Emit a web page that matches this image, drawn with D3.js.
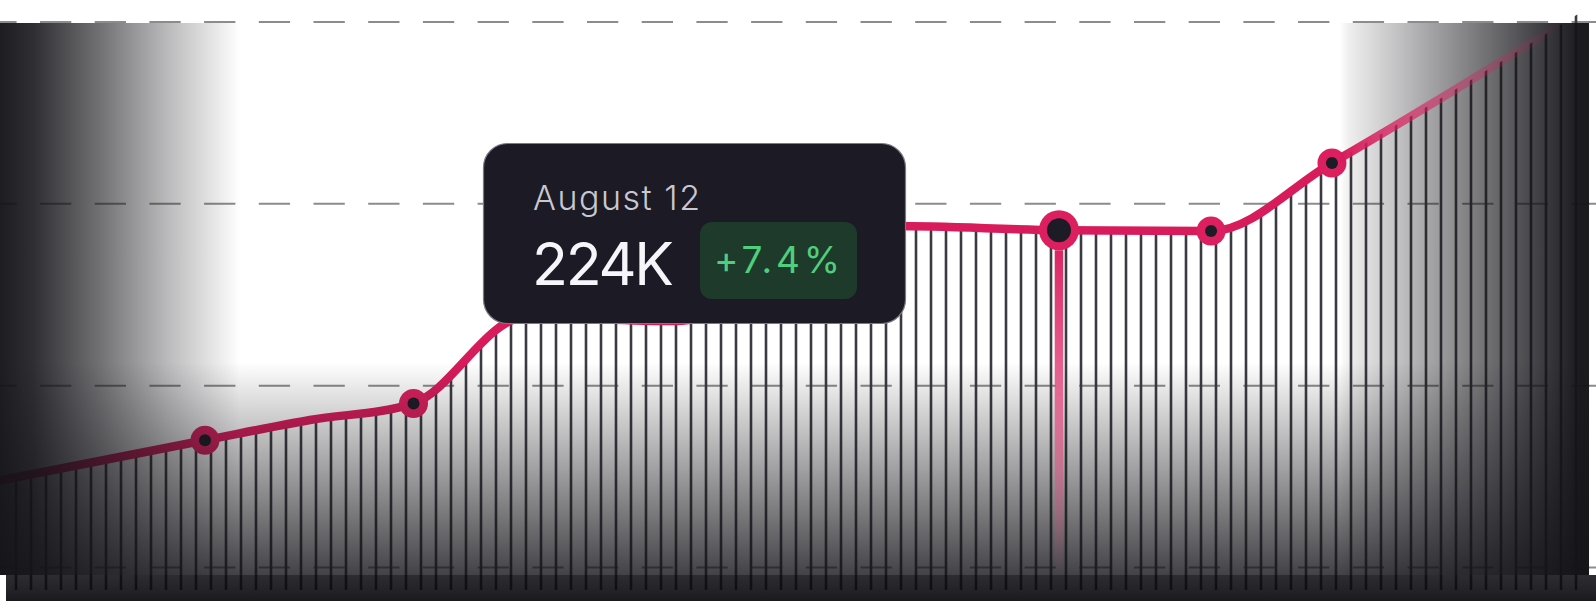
<!DOCTYPE html>
<html><head><meta charset="utf-8">
<script src="https://cdn.jsdelivr.net/npm/d3@7"></script>
<style>html,body{margin:0;padding:0;background:#fff;overflow:hidden}svg{display:block}</style>
</head><body><svg id="chart" width="1596" height="601"></svg>
<script>
// ---- data ----
const days   = [0,     13.6,  20.6,   27.5,  34.93,  45,    59.5,  70.53, 80.67, 88.73, 106];
const values = [169.2, 178.0, 182.45, 186.1, 205.05, 204.2, 225.1, 224.2, 224.0, 239.0, 273.5]; // thousands
const markerIdx = [1, 3, 7, 8, 9];
const hoverIdx = 7;
const gridValues = [150, 190, 230, 270];
const tooltipDate = "August 12";
const tooltipValue = "224K";
const tooltipChange = "+7.4%";

// ---- setup ----
const W = 1596, H = 601;
const svg = d3.select('#chart');
const x = d3.scaleLinear().domain([0, 106]).range([1, 1591]);
const y = d3.scaleLinear().domain([150, 270]).range([567.5, 22]);
const data = days.map((d, i) => ({day: d, v: values[i]}));
const hatchDays = d3.range(1, 106);
const BASE = 590;
const FADE_X = 1340;
const curve = d3.curveMonotoneX;
const line = d3.line().x(d => x(d.day)).y(d => y(d.v)).curve(curve);
const area = d3.area().x(d => x(d.day)).y0(BASE).y1(d => y(d.v)).curve(curve);

const defs = svg.append('defs');
defs.append('clipPath').attr('id', 'under').append('path').attr('d', area(data));
defs.append('clipPath').attr('id', 'cL').append('rect').attr('x', -10).attr('y', -10).attr('width', FADE_X + 10).attr('height', H + 20);
defs.append('clipPath').attr('id', 'cR').append('rect').attr('x', FADE_X).attr('y', -10).attr('width', W).attr('height', H + 20);

function grad(id, x1, y1, x2, y2, stops) {
  const g = defs.append('linearGradient').attr('id', id).attr('gradientUnits', 'userSpaceOnUse')
    .attr('x1', x1).attr('y1', y1).attr('x2', x2).attr('y2', y2);
  stops.forEach(s => g.append('stop').attr('offset', s[0]).attr('stop-color', s[1]).attr('stop-opacity', s[2]));
}
const DK = '#141318';
const RED = '#d81b5a';
grad('gLeft', 0, 0, 240, 0, [[0, DK, 0.96], [0.14, DK, 0.885], [0.42, DK, 0.6], [0.7, DK, 0.29], [1, DK, 0]]);
grad('gRight', 1340, 0, 1589, 0, [[0, DK, 0], [0.036, DK, 0.07], [0.965, DK, 0.97], [1, DK, 0.97]]);
grad('gBottom', 0, 362, 0, 575, [[0, DK, 0], [1, DK, 0.8]]);
grad('gStrip', 0, 575, 0, 601, [[0, '#0b0a0f', 0.86], [0.6, '#0b0a0f', 0.9], [1, '#0b0a0f', 0.94]]);
grad('gCurveR', FADE_X, 0, 1560, 0, [[0, RED, 1], [0.255, RED, 0.72], [0.56, RED, 0.42], [1, RED, 0]]);
const hd = data[hoverIdx];
const hy = y(hd.v);
grad('gHi', 0, hy, 0, 575, [[0, RED, 1], [(370 - hy) / (575 - hy), '#e2457b', 0.85], [(450 - hy) / (575 - hy), '#e2457b', 0.6], [(550 - hy) / (575 - hy), '#e2457b', 0.1], [1, '#e2457b', 0]]);

// grid
svg.append('g').selectAll('line').data(gridValues).join('line')
  .attr('x1', 0).attr('x2', W).attr('y1', d => y(d)).attr('y2', d => y(d))
  .attr('stroke', '#8c8c8c').attr('stroke-width', 2)
  .attr('stroke-dasharray', '31.3 23.4').attr('stroke-dashoffset', 14.7);

// hatch under curve
svg.append('g').attr('clip-path', 'url(#under)').selectAll('line').data(hatchDays).join('line')
  .attr('x1', d => x(d)).attr('x2', d => x(d)).attr('y1', 0).attr('y2', BASE)
  .attr('stroke', '#3b3a40').attr('stroke-width', 2.6);

// curve (left/middle part, beneath the vignette)
svg.append('path').attr('d', line(data)).attr('fill', 'none').attr('clip-path', 'url(#cL)')
  .attr('stroke', RED).attr('stroke-width', 8.5).attr('stroke-linecap', 'round').attr('stroke-linejoin', 'round');

// markers
const mk = svg.append('g').selectAll('g').data(markerIdx.map(i => data[i])).join('g')
  .attr('transform', d => `translate(${x(d.day)},${y(d.v)})`);
mk.append('circle').attr('r', (d, i) => markerIdx[i] === hoverIdx ? 20 : 14.5).attr('fill', '#dc1f5e');
mk.append('circle').attr('r', (d, i) => markerIdx[i] === hoverIdx ? 12 : 6).attr('fill', '#1d1b26');

// vignette overlays
svg.append('rect').attr('x', 0).attr('y', 23).attr('width', 1589).attr('height', 552).attr('fill', 'url(#gBottom)');
svg.append('rect').attr('x', 0).attr('y', 23).attr('width', 1589).attr('height', 552).attr('fill', 'url(#gLeft)');
svg.append('rect').attr('x', 0).attr('y', 23).attr('width', 1589).attr('height', 552).attr('fill', 'url(#gRight)');
svg.append('rect').attr('x', 6).attr('y', 575).attr('width', W - 6).attr('height', H - 575).attr('fill', 'url(#gStrip)');

// curve (right part, fading, above the vignette)
svg.append('path').attr('d', line(data)).attr('fill', 'none').attr('clip-path', 'url(#cR)')
  .attr('stroke', 'url(#gCurveR)').attr('stroke-width', 8.5).attr('stroke-linecap', 'butt');

// highlight line for hovered point
svg.append('line').attr('x1', x(hd.day)).attr('x2', x(hd.day)).attr('y1', hy + 20).attr('y2', 575)
  .attr('stroke', 'url(#gHi)').attr('stroke-width', 8.5);

// tooltip
const tt = svg.append('g');
tt.append('rect').attr('x', 483.5).attr('y', 143.5).attr('width', 422).attr('height', 180).attr('rx', 24)
  .attr('fill', '#1c1a24').attr('stroke', '#7c7a82').attr('stroke-width', 1.2);
tt.append('rect').attr('x', 700).attr('y', 222).attr('width', 157).attr('height', 77).attr('rx', 12).attr('fill', '#1e3a2b');
function fit(sel, target) {
  const n = sel.text().length;
  const len = sel.node().getComputedTextLength();
  sel.attr('letter-spacing', ((target - len) / (n - 1)).toFixed(2));
}
const t1 = tt.append('text').attr('x', 533).attr('y', 210).text(tooltipDate)
  .attr('font-family', 'Inter, sans-serif').attr('font-size', 34).attr('font-weight', 300).attr('fill', '#c9c7d2');
fit(t1, 167);
const t2 = tt.append('text').attr('x', 532).attr('y', 285).text(tooltipValue)
  .attr('font-family', 'Inter, sans-serif').attr('font-size', 59).attr('fill', '#f6f5fa');
fit(t2, 142);
const t3 = tt.append('text').attr('x', 714).attr('y', 273).text(tooltipChange)
  .attr('font-family', 'Inter, sans-serif').attr('font-size', 37).attr('fill', '#4fce7d');
fit(t3, 126);
</script>
</body></html>
